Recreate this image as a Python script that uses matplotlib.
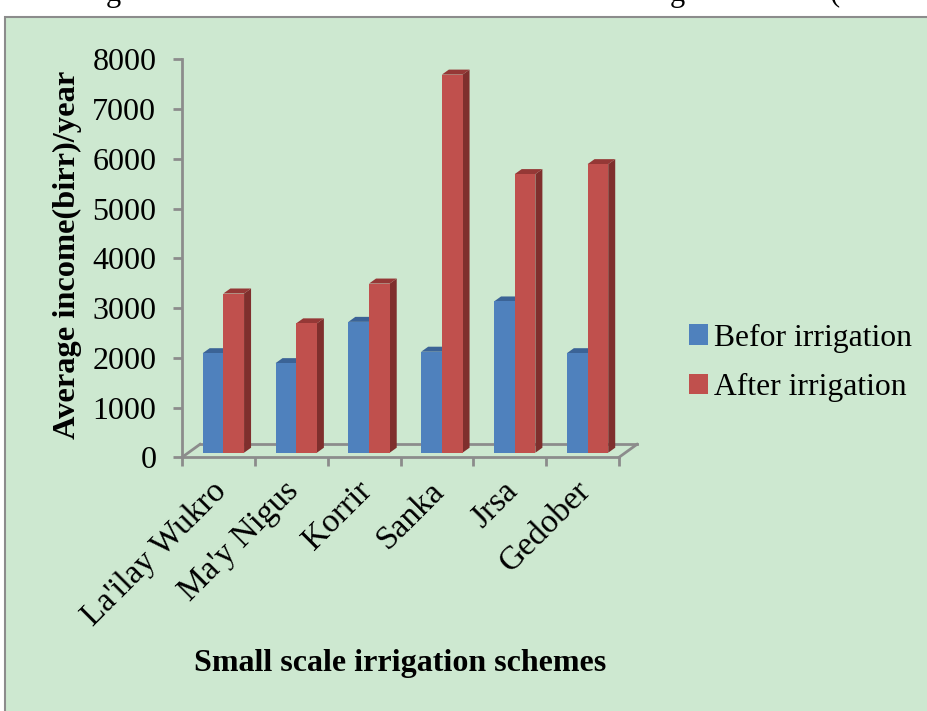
import numpy as np
import matplotlib.pyplot as plt
from matplotlib.patches import Polygon, Rectangle
import matplotlib.transforms as mtransforms

# Data
schemes = ["La'ilay Wukro", "Ma'y Nigus", "Korrir", "Sanka", "Jrsa", "Gedober"]
before = [2000, 1800, 2630, 2030, 3040, 2000]
after = [3200, 2600, 3400, 7600, 5600, 5800]
yticks = [0, 1000, 2000, 3000, 4000, 5000, 6000, 7000, 8000]
series_names = ["Befor irrigation", "After irrigation"]

plt.rcParams['font.family'] = ['Liberation Serif', 'DejaVu Serif']

W, H = 927, 711
bg = '#CDE8D0'
grey = '#8C8C8C'
blue = '#4F81BD'
blue_top = '#3B6396'
red = '#C0504D'
red_side = '#7F2F2D'
red_top = '#953836'

fig = plt.figure(figsize=(W / 100, H / 100), dpi=100)
fig.patch.set_facecolor('white')

# green chart area with grey border (cut off at right/bottom)
fig.patches.append(Rectangle((5 / W, -0.05), 1.1, (H - 17) / H + 0.05,
                             transform=fig.transFigure, facecolor=bg,
                             edgecolor=grey, lw=1.5, zorder=-10))

# cut-off caption line above the chart (only descenders visible)
for xp, ch in [(113, 'g'), (677, 'g'), (835, '(')]:
    fig.text(xp / W, 1 - 0.5 / H, ch, fontsize=22, va='baseline', ha='center')

left, bottom, right, top = 182, 457.3, 619, 59.3
ax = fig.add_axes([left / W, 1 - bottom / H, (right - left) / W, (bottom - top) / H])
ax.set_facecolor('none')
ax.set_xlim(0, len(schemes))
ax.set_ylim(0, 8000)

px_x = (right - left) / len(schemes)   # pixels per category
px_y = (bottom - top) / 8000           # pixels per unit value

def dx(p):
    return p / px_x

def dy(p):
    return p / px_y

for s in ['top', 'right']:
    ax.spines[s].set_visible(False)
for s in ['left', 'bottom']:
    ax.spines[s].set_color(grey)
    ax.spines[s].set_linewidth(2)

ax.set_yticks(yticks)
ax.set_yticklabels([str(v) for v in yticks], fontsize=23)
ax.set_xticks(np.arange(len(schemes) + 1))
ax.set_xticklabels([])
ax.tick_params(axis='both', color=grey, width=2, length=6.5, direction='out')
ax.tick_params(axis='y', pad=12)

# floor of the 3D box
fdx, fdy = dx(18), dy(13)
n = len(schemes)
floor_kw = dict(color=grey, lw=2, clip_on=False, zorder=1)
ax.plot([fdx, n + fdx], [fdy, fdy], **floor_kw)
ax.plot([0, fdx], [0, fdy], **floor_kw)
ax.plot([n, n + fdx], [0, fdy], **floor_kw)

# 3D columns
bw = 0.284
base = dy(4.6)
ddx, ddy = dx(7), dy(5)

def column(x0, val, front, side, topc):
    t = base + val
    ax.add_patch(Rectangle((x0, base), bw, val, facecolor=front, edgecolor='none', zorder=3, clip_on=False))
    ax.add_patch(Polygon([(x0 + bw, base), (x0 + bw, t), (x0 + bw + ddx, t + ddy),
                          (x0 + bw + ddx, base + ddy)], closed=True, facecolor=side,
                         edgecolor='none', zorder=2, clip_on=False))
    ax.add_patch(Polygon([(x0, t), (x0 + bw, t), (x0 + bw + ddx, t + ddy), (x0 + ddx, t + ddy)],
                         closed=True, facecolor=topc, edgecolor='none', zorder=2, clip_on=False))

for i in range(n):
    column(i + bw, before[i], blue, blue_top, blue_top)
    column(i + 2 * bw, after[i], red, red_side, red_top)

# rotated category labels
trans = mtransforms.blended_transform_factory(ax.transData, ax.transAxes)
for i, name in enumerate(schemes):
    ax.text(i + 0.5 + dx(3), -29 / (bottom - top), name, transform=trans, rotation=45,
            ha='right', va='center', rotation_mode='anchor', fontsize=24)

fig.text(67 / W, 1 - 255 / H, 'Average income(birr)/year', rotation=90, fontsize=23.3,
         fontweight='bold', ha='center', va='center')
fig.text(400 / W, 1 - 663 / H, 'Small scale irrigation schemes', fontsize=23,
         fontweight='bold', ha='center', va='center')

handles = [Rectangle((0, 0), 1, 1, facecolor=blue), Rectangle((0, 0), 1, 1, facecolor=red)]
fig.legend(handles, series_names, loc='center left', bbox_to_anchor=(676 / W, 1 - 363 / H),
           frameon=False, fontsize=22.8, handlelength=0.6, handleheight=0.6,
           handletextpad=0.2, labelspacing=0.65, borderaxespad=0)

fig.savefig('out.png', dpi=100)
